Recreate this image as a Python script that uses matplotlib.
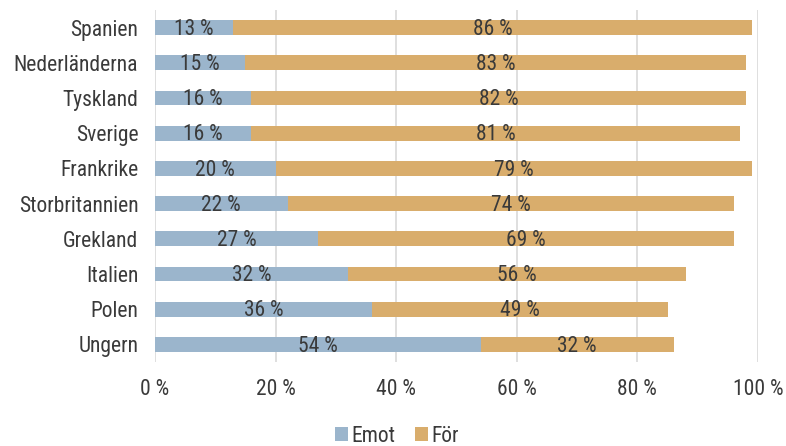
import matplotlib
matplotlib.use('Agg')
import matplotlib.pyplot as plt

countries = ['Spanien', 'Nederländerna', 'Tyskland', 'Sverige', 'Frankrike',
             'Storbritannien', 'Grekland', 'Italien', 'Polen', 'Ungern']
emot = [13, 15, 16, 16, 20, 22, 27, 32, 36, 54]
foer = [86, 83, 82, 81, 79, 74, 69, 56, 49, 32]

BLUE = '#9bb5cc'
GOLD = '#d9ad6c'
TXT = '#3a3a3a'
FS = 15.5

plt.rcParams['font.family'] = ['Roboto Condensed', 'PT Sans Narrow', 'DejaVu Sans']

fig = plt.figure(figsize=(7.86, 4.46), dpi=100)
ax = fig.add_axes([155 / 786, 1 - 362 / 446, (758 - 155) / 786, 352 / 446])

y = list(range(len(countries)))
ax.barh(y, emot, height=0.42, color=BLUE, label='Emot', zorder=2)
ax.barh(y, foer, left=emot, height=0.42, color=GOLD, label='För', zorder=2)

for i, (e, f) in enumerate(zip(emot, foer)):
    ax.text(e / 2, i + 0.05, f'{e} %', ha='center', va='center', fontsize=FS, color=TXT, zorder=3)
    ax.text(e + f / 2, i + 0.05, f'{f} %', ha='center', va='center', fontsize=FS, color=TXT, zorder=3)

ax.set_yticks(y)
ax.set_yticklabels(countries, fontsize=FS, color=TXT)
ax.set_ylim(len(countries) - 0.5, -0.5)
ax.set_xlim(0, 100)
ax.set_xticks(range(0, 101, 20))
ax.set_xticklabels([f'{v} %' for v in range(0, 101, 20)], fontsize=FS, color=TXT)
ax.tick_params(length=0, pad=12)
ax.tick_params(axis='y', pad=12)
ax.grid(axis='x', color='#d9d9d9', lw=1.2, zorder=0)
for s in ax.spines.values():
    s.set_visible(False)

fig.legend(loc='center', bbox_to_anchor=(0.505, 1 - 436 / 446), ncol=2, frameon=False,
           fontsize=FS, handlelength=0.6, handleheight=0.6, handletextpad=0.15,
           columnspacing=0.9, labelcolor=TXT)

plt.savefig('out.png', dpi=100)
